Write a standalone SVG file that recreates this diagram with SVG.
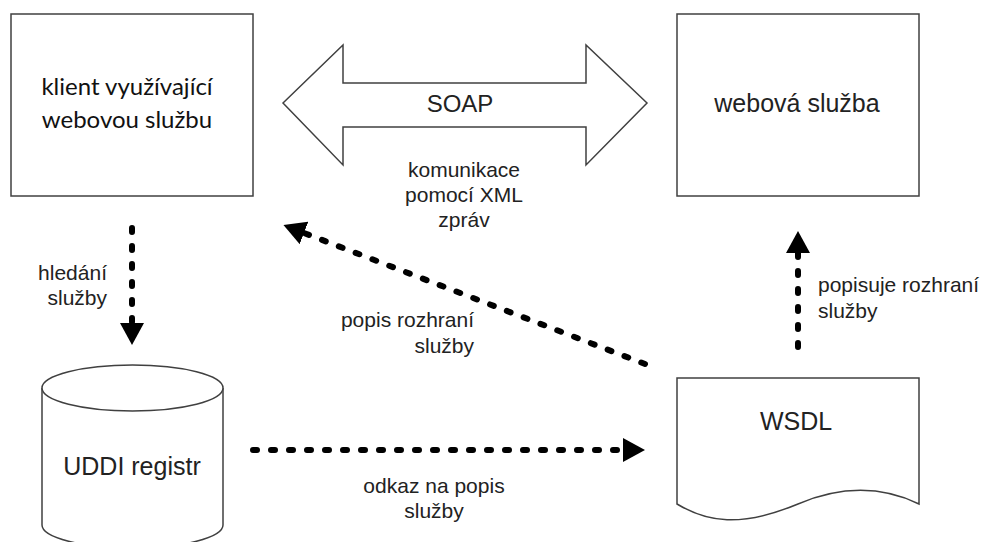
<svg xmlns="http://www.w3.org/2000/svg" width="984" height="542" viewBox="0 0 984 542">
<style>
.box{fill:#fff;stroke:#404040;stroke-width:1.5}
.lbl{font-family:"Liberation Sans",Arial,sans-serif;fill:#222}
.node{font-size:25px}
.edge{font-size:21px}
.calibri{font-family:Lato,"Liberation Sans",sans-serif;font-size:24px;fill:#111}
.dash{fill:none;stroke:#000;stroke-width:6;stroke-linecap:round;stroke-dasharray:4 14}
</style>
<defs>
<marker id="ah" markerUnits="userSpaceOnUse" markerWidth="22" markerHeight="24" viewBox="0 0 22 24" refX="0" refY="12" orient="auto">
<path d="M0,0 L22,12 L0,24 Z" fill="#000"/>
</marker>
</defs>
<rect width="984" height="542" fill="#fff"/>
<g id="client">
<rect class="box" x="11" y="14" width="242" height="182"/>
<text class="calibri" x="127" y="95" text-anchor="middle">klient využívající</text>
<text class="calibri" x="127" y="128" text-anchor="middle">webovou službu</text>
</g>
<g id="soap">
<polygon class="box" points="283,103 343,45 343,83 586,83 586,45 647,103 586,165 586,127 343,127 343,165"/>
<text class="lbl" x="460" y="112" text-anchor="middle" font-size="24">SOAP</text>
</g>
<g id="webservice">
<rect class="box" x="677" y="14" width="242" height="182"/>
<text class="lbl node" x="797" y="112" text-anchor="middle">webová služba</text>
</g>
<g id="uddi">
<path class="box" d="M42,388 V525 A90.5,23 0 0 0 223,525 V388"/>
<ellipse class="box" cx="132.5" cy="388" rx="90.5" ry="23"/>
<text class="lbl node" x="132" y="475" text-anchor="middle">UDDI registr</text>
</g>
<g id="wsdl">
<path class="box" d="M677,378 H919 V504 C890,490 850,482 798,504 C740,528 707,522 677,504 Z"/>
<text class="lbl node" x="796" y="430" text-anchor="middle">WSDL</text>
</g>
<g id="connectors">
<line class="dash" x1="132" y1="228" x2="132" y2="323" marker-end="url(#ah)"/>
<line class="dash" x1="798" y1="347" x2="798" y2="253" marker-end="url(#ah)"/>
<line class="dash" x1="253" y1="450" x2="623" y2="450" marker-end="url(#ah)"/>
<line class="dash" x1="645" y1="364" x2="304" y2="233" marker-end="url(#ah)"/>
</g>
<g id="labels">
<text class="lbl edge" x="464" y="177" text-anchor="middle">komunikace</text>
<text class="lbl edge" x="464" y="202" text-anchor="middle">pomocí XML</text>
<text class="lbl edge" x="464" y="227" text-anchor="middle">zpráv</text>
<text class="lbl edge" x="107" y="280" text-anchor="end">hledání</text>
<text class="lbl edge" x="107" y="305" text-anchor="end">služby</text>
<text class="lbl edge" x="474" y="327" text-anchor="end">popis rozhraní</text>
<text class="lbl edge" x="474" y="353" text-anchor="end">služby</text>
<text class="lbl edge" x="818" y="292" text-anchor="start">popisuje rozhraní</text>
<text class="lbl edge" x="818" y="318" text-anchor="start">služby</text>
<text class="lbl edge" x="434" y="493" text-anchor="middle">odkaz na popis</text>
<text class="lbl edge" x="434" y="518" text-anchor="middle">služby</text>
</g>
</svg>
